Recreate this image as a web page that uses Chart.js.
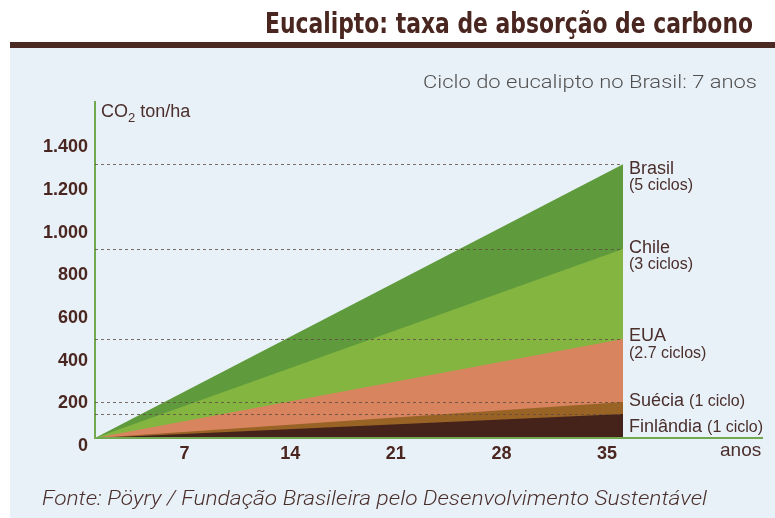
<!DOCTYPE html>
<html><head><meta charset="utf-8">
<script src="https://cdn.jsdelivr.net/npm/chart.js@4.4.1/dist/chart.umd.min.js"></script>
<style>
html,body{margin:0;padding:0;background:#fff;}
#wrap{position:relative;width:775px;height:518px;overflow:hidden;background:#fff;}
#panel{position:absolute;left:10px;top:48px;width:765px;height:470px;background:#e9f1f8;}
#bar{position:absolute;left:10px;top:42px;width:765px;height:6px;background:#4a2a22;}
#cv{position:absolute;left:0;top:0;}
.t{position:absolute;white-space:nowrap;color:#4a2f2c;font-family:'Liberation Sans',Arial,sans-serif;line-height:1;}
.fit{transform-origin:left top;}
.sm{font-size:16px;}
</style></head>
<body>
<div id="wrap">
  <div id="panel"></div>
  <div id="bar"></div>
  <canvas id="cv" width="775" height="518"></canvas>
  <div class="t fit" id="title" data-w="488" data-r="753" style="top:10px;font-family:'Liberation Sans Narrow','DejaVu Sans Condensed',sans-serif;font-weight:bold;font-size:28px;color:#4a2620;">Eucalipto: taxa de absorção de carbono</div>
  <div class="t fit" id="sub" data-w="334" data-r="757" style="top:72px;font-family:Roboto,sans-serif;font-weight:300;font-size:19px;color:#505050;">Ciclo do eucalipto no Brasil: 7 anos</div>
  <div class="t" style="left:101px;top:102px;font-size:18px;">CO<span style="font-size:13px;position:relative;top:5px;">2</span> ton/ha</div>
  <div class="t" style="left:629px;top:159px;font-size:18px;">Brasil</div>
  <div class="t" style="left:629px;top:177px;font-size:16px;">(5 ciclos)</div>
  <div class="t" style="left:629px;top:238px;font-size:18px;">Chile</div>
  <div class="t" style="left:629px;top:256px;font-size:16px;">(3 ciclos)</div>
  <div class="t" style="left:629px;top:326px;font-size:18px;">EUA</div>
  <div class="t" style="left:629px;top:345px;font-size:16px;">(2.7 ciclos)</div>
  <div class="t" style="left:629px;top:391px;font-size:18px;">Suécia <span class="sm">(1 ciclo)</span></div>
  <div class="t" style="left:629px;top:417px;font-size:18px;">Finlândia <span class="sm">(1 ciclo)</span></div>
  <div class="t" style="left:720px;top:440px;font-size:19px;">anos</div>
  <div class="t fit" id="src" data-w="665" data-l="42" style="top:488px;font-family:Roboto,sans-serif;font-style:italic;font-weight:300;font-size:20px;color:#4a2f2c;">Fonte: Pöyry / Fundação Brasileira pelo Desenvolvimento Sustentável</div>
</div>
<script>
// ---- data ----
const years = [0, 35];
const seriesNames = ['Brasil', 'Chile', 'EUA', 'Suécia', 'Finlândia'];
const brasil = [0, 1283];
const chile = [0, 886];
const eua = [0, 464];
const suecia = [0, 169];
const finlandia = [0, 112];
const xTicks = [7, 14, 21, 28, 35];
const xTickLabels = ['7', '14', '21', '28', '35'];
const yTicks = [0, 200, 400, 600, 800, 1000, 1200, 1400];
const yTickLabels = ['0', '200', '400', '600', '800', '1.000', '1.200', '1.400'];

const seriesValues = [brasil, chile, eua, suecia, finlandia];
const seriesColors = ['#5f9b3d', '#84b541', '#d8845e', '#9a6326', '#45231b'];

// fit text widths
document.querySelectorAll('.fit').forEach(el => {
  const w = el.getBoundingClientRect().width;
  const target = +el.dataset.w;
  const s = target / w;
  el.style.transform = 'scaleX(' + s + ')';
  if (el.dataset.r) el.style.left = (+el.dataset.r - target) + 'px';
  if (el.dataset.l) el.style.left = el.dataset.l + 'px';
});

const axisGreen = '#72a84f';
const refPlugin = {
  id: 'refLines',
  afterDatasetsDraw(chart) {
    const {ctx, chartArea, scales} = chart;
    const xEnd = scales.x.getPixelForValue(years[years.length - 1]);
    ctx.save();
    ctx.setLineDash([3, 3]);
    ctx.lineWidth = 1;
    ctx.strokeStyle = 'rgba(95,75,65,0.8)';
    seriesValues.forEach(vals => {
      const y = Math.round(scales.y.getPixelForValue(vals[vals.length - 1])) + 0.5;
      ctx.beginPath();
      ctx.moveTo(chartArea.left, y);
      ctx.lineTo(xEnd, y);
      ctx.stroke();
    });
    ctx.setLineDash([]);
    ctx.strokeStyle = axisGreen;
    ctx.lineWidth = 2;
    const y0 = scales.y.getPixelForValue(0);
    ctx.beginPath();
    ctx.moveTo(chartArea.left - 1, y0);
    ctx.lineTo(763, y0);
    ctx.stroke();
    ctx.restore();
  }
};

const tickFont = {family: "'Liberation Sans', Arial, sans-serif", size: 18, weight: 'bold'};
new Chart(document.getElementById('cv'), {
  type: 'line',
  data: {
    datasets: seriesNames.map((n, i) => ({
      label: n,
      data: years.map((x, j) => ({x: x, y: seriesValues[i][j]})),
      backgroundColor: seriesColors[i],
      borderColor: seriesColors[i],
      borderWidth: 0,
      pointRadius: 0,
      fill: 'origin',
      tension: 0,
      order: seriesNames.length - i
    }))
  },
  options: {
    responsive: false,
    animation: false,
    devicePixelRatio: 1,
    layout: {padding: {top: 102, right: 152, bottom: 50, left: 0}},
    plugins: {legend: {display: false}, tooltip: {enabled: false}},
    scales: {
      x: {
        type: 'linear', min: 0, max: 35,
        afterBuildTicks: s => { s.ticks = xTicks.map(v => ({value: v})); },
        afterFit: s => { s.height = 30; },
        grid: {display: false, drawTicks: false},
        border: {display: false},
        ticks: {
          callback: (v, i) => xTickLabels[i],
          labelOffset: -16, padding: 5, font: tickFont, color: '#4a2620',
          maxRotation: 0, autoSkip: false
        }
      },
      y: {
        type: 'linear', min: 0, max: 1575,
        afterBuildTicks: s => { s.ticks = yTicks.map(v => ({value: v})); },
        afterFit: s => { s.width = 95; },
        grid: {display: false, drawTicks: false},
        border: {display: true, color: axisGreen, width: 2},
        ticks: {
          callback: (v, i) => yTickLabels[i],
          labelOffset: 8, padding: 7, font: tickFont, color: '#4a2620', autoSkip: false
        }
      }
    }
  },
  plugins: [refPlugin]
});
</script>
</body></html>
